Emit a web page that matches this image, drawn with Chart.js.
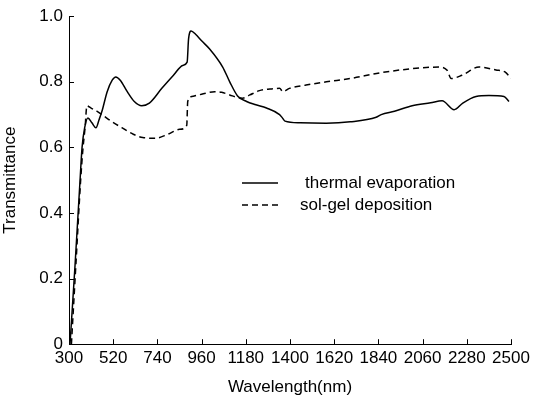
<!DOCTYPE html>
<html>
<head>
<meta charset="utf-8">
<script src="https://cdn.jsdelivr.net/npm/chart.js@4.4.0/dist/chart.umd.min.js"></script>
<style>
  html, body { margin: 0; padding: 0; background: #fff; }
  #wrap { width: 538px; height: 398px; }
</style>
</head>
<body>
<div id="wrap"><canvas id="chart"></canvas></div>
<script>
// wavelength (nm) / transmittance
const thermalNm = [305, 330, 355, 365, 378, 394, 414, 434, 450, 464, 490, 515, 533, 555, 590, 625, 662, 700, 762, 820, 866, 888, 895, 908, 930, 960, 1000, 1065, 1100, 1139, 1184, 1230, 1283, 1348, 1362, 1375, 1450, 1580, 1700, 1829, 1854, 1920, 2008, 2100, 2157, 2217, 2260, 2326, 2390, 2465, 2490]
const thermalT = [0, 0.24, 0.5, 0.6, 0.66, 0.69, 0.675, 0.66, 0.685, 0.71, 0.77, 0.805, 0.815, 0.805, 0.77, 0.74, 0.727, 0.735, 0.78, 0.82, 0.85, 0.86, 0.93, 0.955, 0.945, 0.925, 0.9, 0.845, 0.8, 0.757, 0.74, 0.73, 0.72, 0.7, 0.69, 0.68, 0.675, 0.674, 0.678, 0.692, 0.7, 0.71, 0.727, 0.736, 0.742, 0.715, 0.735, 0.755, 0.758, 0.755, 0.74]

const solgelNm = [312, 335, 358, 370, 380, 389, 410, 440, 464, 510, 563, 620, 667, 730, 792, 850, 886, 891, 910, 960, 1025, 1060, 1100, 1140, 1164, 1200, 1248, 1300, 1348, 1365, 1397, 1480, 1581, 1700, 1845, 2008, 2142, 2182, 2202, 2256, 2341, 2425, 2470, 2500]
const solgelT = [0, 0.25, 0.5, 0.6, 0.66, 0.727, 0.72, 0.71, 0.7, 0.68, 0.66, 0.64, 0.63, 0.628, 0.64, 0.655, 0.667, 0.74, 0.755, 0.762, 0.77, 0.768, 0.76, 0.752, 0.75, 0.76, 0.773, 0.778, 0.78, 0.77, 0.78, 0.79, 0.8, 0.81, 0.827, 0.84, 0.845, 0.835, 0.81, 0.82, 0.845, 0.836, 0.83, 0.81]

const xTicks = [300, 520, 740, 960, 1180, 1400, 1620, 1840, 2060, 2280, 2500]
const yTicks = [0, 0.2, 0.4, 0.6, 0.8, 1.0]
const seriesNames = ['thermal evaporation', 'sol-gel deposition']

const toPoints = (xs, ys) => xs.map((x, i) => ({ x: x, y: ys[i] }))

const FONT = 'Liberation Sans, Arial, Helvetica, sans-serif'

// ticks in the figure point into the plot
const innerTicks = {
    id: 'innerTicks',
    afterDraw(chart) {
        const ctx = chart.ctx
        const { x, y } = chart.scales
        ctx.save()
        ctx.strokeStyle = '#000'
        ctx.lineWidth = 1
        x.ticks.forEach(t => {
            const px = Math.round(x.getPixelForValue(t.value)) + 0.5
            ctx.beginPath()
            ctx.moveTo(px, y.bottom)
            ctx.lineTo(px, y.bottom - 5)
            ctx.stroke()
        })
        y.ticks.forEach(t => {
            const py = Math.round(y.getPixelForValue(t.value)) + 0.5
            ctx.beginPath()
            ctx.moveTo(x.left, py)
            ctx.lineTo(x.left + 5, py)
            ctx.stroke()
        })
        ctx.restore()
    }
}

// legend sits inside the plot, like the original figure
const insideLegend = {
    id: 'insideLegend',
    afterDraw(chart) {
        const ctx = chart.ctx
        ctx.save()
        ctx.font = '17px ' + FONT
        ctx.textBaseline = 'middle'
        ctx.fillStyle = '#000'
        chart.data.datasets.forEach((ds, i) => {
            const rowY = 183 + i * 22
            ctx.strokeStyle = ds.borderColor
            ctx.lineWidth = ds.borderWidth
            ctx.setLineDash(ds.borderDash || [])
            ctx.beginPath()
            ctx.moveTo(242, rowY)
            ctx.lineTo(278, rowY)
            ctx.stroke()
            ctx.setLineDash([])
            ctx.fillText(ds.label, i === 0 ? 305 : 300, rowY)
        })
        ctx.restore()
    }
}

new Chart(document.getElementById('chart'), {
    type: 'line',
    data: {
        datasets: [
            {
                label: seriesNames[0],
                data: toPoints(thermalNm, thermalT),
                borderColor: '#000',
                borderWidth: 1.5,
                pointRadius: 0,
                cubicInterpolationMode: 'monotone'
            },
            {
                label: seriesNames[1],
                data: toPoints(solgelNm, solgelT),
                borderColor: '#000',
                borderWidth: 1.5,
                borderDash: [6, 4],
                pointRadius: 0,
                cubicInterpolationMode: 'monotone'
            }
        ]
    },
    options: {
        responsive: true,
        maintainAspectRatio: false,
        animation: false,
        layout: { padding: { top: 13, right: 27, left: 0, bottom: 0 } },
        plugins: {
            legend: { display: false },
            tooltip: { enabled: false }
        },
        scales: {
            x: {
                type: 'linear',
                min: 300,
                max: 2500,
                afterBuildTicks: axis => { axis.ticks = xTicks.map(v => ({ value: v })) },
                ticks: {
                    color: '#000',
                    font: { family: FONT, size: 17 },
                    padding: 4,
                    maxRotation: 0,
                    autoSkip: false,
                    callback: v => String(v)
                },
                grid: { drawOnChartArea: false, drawTicks: false },
                border: { color: '#000', width: 1 },
                title: {
                    display: true,
                    text: 'Wavelength(nm)',
                    color: '#000',
                    font: { family: FONT, size: 17 },
                    padding: { top: 5, bottom: 0 }
                }
            },
            y: {
                min: 0,
                max: 1,
                afterBuildTicks: axis => { axis.ticks = yTicks.map(v => ({ value: v })) },
                afterFit: axis => { axis.width = 69 },
                ticks: {
                    color: '#000',
                    font: { family: FONT, size: 17 },
                    padding: 6,
                    callback: v => v === 0 ? '0' : v.toFixed(1)
                },
                grid: { drawOnChartArea: false, drawTicks: false },
                border: { color: '#000', width: 1 },
                title: {
                    display: true,
                    text: 'Transmittance',
                    color: '#000',
                    font: { family: FONT, size: 17 },
                    padding: { top: 0, bottom: 4 }
                }
            }
        }
    },
    plugins: [innerTicks, insideLegend]
})
</script>
</body>
</html>
